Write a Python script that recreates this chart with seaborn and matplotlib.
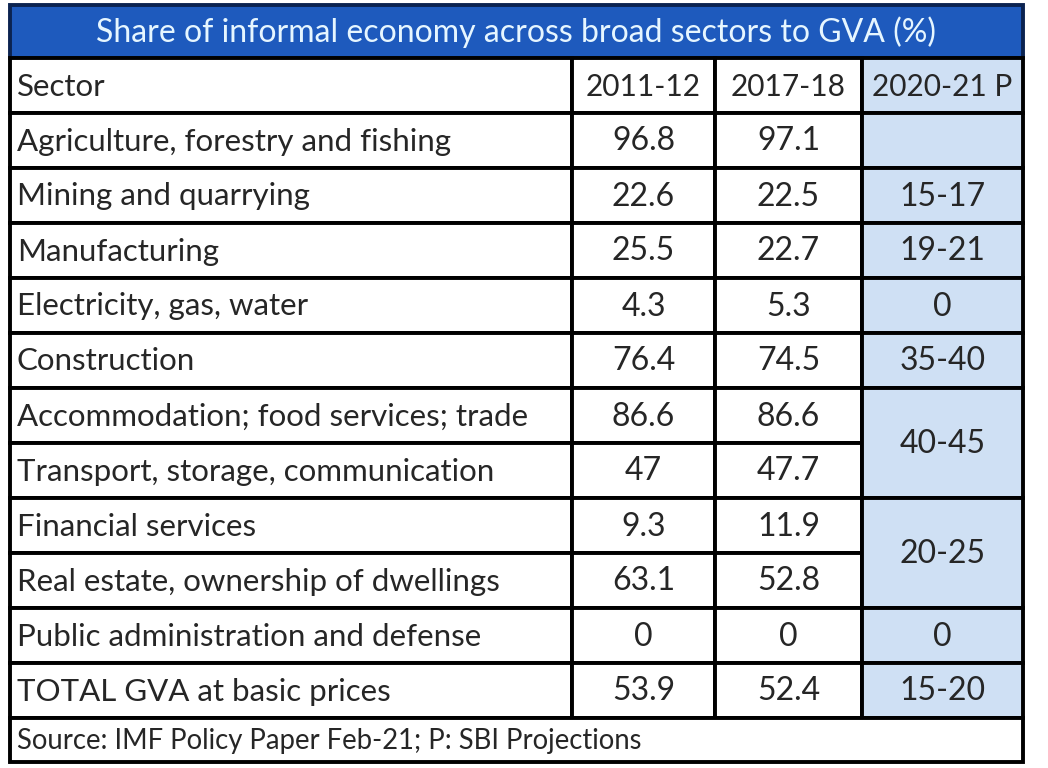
import matplotlib
matplotlib.use("Agg")
import matplotlib.pyplot as plt
import seaborn as sns
from matplotlib.patches import Rectangle

title = "Share of informal economy across broad sectors to GVA (%)"
header = ["Sector", "2011-12", "2017-18", "2020-21 P"]
sectors = [
    "Agriculture, forestry and fishing",
    "Mining and quarrying",
    "Manufacturing",
    "Electricity, gas, water",
    "Construction",
    "Accommodation; food services; trade",
    "Transport, storage, communication",
    "Financial services",
    "Real estate, ownership of dwellings",
    "Public administration and defense",
    "TOTAL GVA at basic prices",
]
v2011 = [96.8, 22.6, 25.5, 4.3, 76.4, 86.6, 47, 9.3, 63.1, 0, 53.9]
v2017 = [97.1, 22.5, 22.7, 5.3, 74.5, 86.6, 47.7, 11.9, 52.8, 0, 52.4]
proj_labels = ["", "15-17", "19-21", "0", "35-40", "40-45", "20-25", "0", "15-20"]
proj_spans = [1, 1, 1, 1, 1, 2, 2, 1, 1]
source = "Source: IMF Policy Paper Feb-21; P: SBI Projections"

sns.set_theme(style="white")
plt.rcParams["font.family"] = ["Lato", "DejaVu Sans"]

fig = plt.figure(figsize=(10.48, 7.68), dpi=100)
ax = fig.add_axes([0, 0, 1, 1])
ax.set_xlim(0, 1048)
ax.set_ylim(768, 0)
ax.axis("off")

# layout (pixel units)
col_x = [10, 572, 715, 862, 1023]
top = 5
title_h = 53
row_h = 55
head_y = top + title_h
body_y = head_y + row_h
n = len(sectors)
src_y = body_y + n * row_h
src_h = 44

lw = 2.8
blue_fill = "#cfe0f4"
fs = 22.5
fs_num = 23

# title band
ax.add_patch(Rectangle((col_x[0], top), col_x[-1] - col_x[0], title_h,
                       facecolor="#1e5abd", edgecolor="#0b2350", lw=lw))
ax.text((col_x[0] + col_x[-1]) / 2, top + title_h / 2 + 1, title,
        ha="center", va="center", fontsize=23, color="#e6f6ff")

def cell(x0, x1, y, h, fc="white"):
    ax.add_patch(Rectangle((x0, y), x1 - x0, h, facecolor=fc,
                           edgecolor="black", lw=lw))

# header
for j, lab in enumerate(header):
    fc = blue_fill if j == 3 else "white"
    cell(col_x[j], col_x[j + 1], head_y, row_h, fc)
    if j == 0:
        ax.text(col_x[0] + 7, head_y + row_h / 2 + 1, lab, ha="left", va="center", fontsize=fs)
    else:
        ax.text((col_x[j] + col_x[j + 1]) / 2, head_y + row_h / 2 + 1, lab,
                ha="center", va="center", fontsize=21.5)

# body rows
for i, name in enumerate(sectors):
    y = body_y + i * row_h
    cell(col_x[0], col_x[1], y, row_h)
    cell(col_x[1], col_x[2], y, row_h)
    cell(col_x[2], col_x[3], y, row_h)
    ax.text(col_x[0] + 7, y + row_h / 2 + 1, name, ha="left", va="center", fontsize=fs)
    ax.text((col_x[1] + col_x[2]) / 2, y + row_h / 2 + 1, f"{v2011[i]:g}",
            ha="center", va="center", fontsize=fs_num)
    ax.text((col_x[2] + col_x[3]) / 2, y + row_h / 2 + 1, f"{v2017[i]:g}",
            ha="center", va="center", fontsize=fs_num)

# projection column with merged cells
r = 0
for lab, span in zip(proj_labels, proj_spans):
    y = body_y + r * row_h
    cell(col_x[3], col_x[4], y, span * row_h, blue_fill)
    ax.text((col_x[3] + col_x[4]) / 2, y + span * row_h / 2 + 1, lab,
            ha="center", va="center", fontsize=fs_num)
    r += span

# source row
cell(col_x[0], col_x[-1], src_y, src_h)
ax.text(col_x[0] + 7, src_y + src_h / 2 + 1, source, ha="left", va="center", fontsize=19.8)

fig.savefig("out.png", dpi=100, facecolor="white")
